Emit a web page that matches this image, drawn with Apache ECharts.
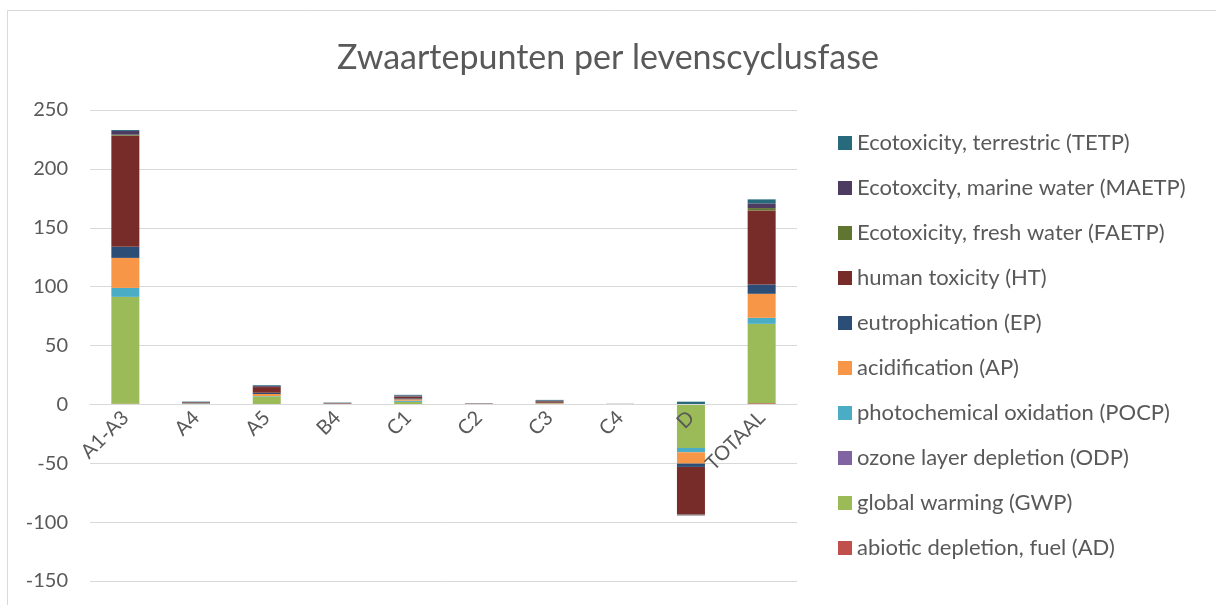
<!DOCTYPE html>
<html>
<head>
<meta charset="utf-8">
<title>Zwaartepunten per levenscyclusfase</title>
<script src="https://cdn.jsdelivr.net/npm/echarts@6/dist/echarts.min.js"></script>
<style>
  html, body { margin: 0; padding: 0; background: #fff; }
  #chart { width: 1216px; height: 605px; }
</style>
</head>
<body>
<div id="chart"></div>
<script>
// levenscyclusfasen (x-as)
var fases = ['A1-A3', 'A4', 'A5', 'B4', 'C1', 'C2', 'C3', 'C4', 'D', 'TOTAAL']

// y-as
var yMin = -150
var yMax = 250
var yStap = 50

// waarden per milieu-indicator
var AD    = [0.6, 0.1, 0.2, 0.05, 0.1, 0.05, 0.4, 0.05, -0.5, 1.0]
var GWP   = [90.6, 0.5, 6.6, 0.3, 2.0, 0.2, 0.3, 0.1, -36.5, 67.3]
var ODP   = [0.1, 0, 0, 0, 0, 0, 0, 0, 0, 0.1]
var POCP  = [7.6, 0.1, 0.3, 0.05, 1.0, 0.05, 0.1, 0.02, -3.7, 5.1]
var AP    = [25.5, 0.2, 1.7, 0.2, 1.2, 0.1, 0.3, 0.05, -9.6, 20.4]
var EP    = [9.4, 0.3, 1.1, 0.2, 0.8, 0.1, 0.3, 0.05, -2.8, 7.9]
var HT    = [94.4, 0.5, 4.8, 0.3, 1.4, 0.2, 1.2, 0.1, -40.5, 62.9]
var FAETP = [0.85, 0.05, 0.2, 0.02, 0.2, 0.02, 0.1, 0.01, -0.2, 2.0]
var MAETP = [3.1, 0.3, 0.8, 0.2, 0.8, 0.1, 0.5, 0.05, -0.5, 4.0]
var TETP  = [0.8, 0.3, 0.6, 0.2, 0.6, 0.1, 0.6, 0.05, 2.3, 3.4]

// volgorde van onder naar boven in de stapel
var reeksen = [
  { name: 'abiotic depletion, fuel (AD)', data: AD, color: '#C0504D' },
  { name: 'global warming (GWP)', data: GWP, color: '#9BBB59' },
  { name: 'ozone layer depletion (ODP)', data: ODP, color: '#8064A2' },
  { name: 'photochemical oxidation (POCP)', data: POCP, color: '#4BACC6' },
  { name: 'acidification (AP)', data: AP, color: '#F79646' },
  { name: 'eutrophication (EP)', data: EP, color: '#2C4D75' },
  { name: 'human toxicity (HT)', data: HT, color: '#772C2A' },
  { name: 'Ecotoxicity, fresh water (FAETP)', data: FAETP, color: '#5F7530' },
  { name: 'Ecotoxcity, marine water (MAETP)', data: MAETP, color: '#4D3B62' },
  { name: 'Ecotoxicity, terrestric (TETP)', data: TETP, color: '#276A7C' }
]

var tekstKleur = '#595959'
var lijnKleur = '#d9d9d9'
var font = 'Lato, "Open Sans", sans-serif'

// plotgebied
var gridTop = 110
var gridBottom = 24
var plotHoogte = 605 - gridTop - gridBottom
// de x-as ligt op de nullijn, niet onderaan
var asOffset = -plotHoogte * (0 - yMin) / (yMax - yMin)

var option = {
  animation: false,
  backgroundColor: '#fff',
  title: {
    text: 'Zwaartepunten per levenscyclusfase',
    left: 'center',
    top: 36,
    textStyle: { color: tekstKleur, fontSize: 34, fontWeight: 'normal', fontFamily: font }
  },
  // rand om de grafiek
  graphic: [{
    type: 'rect',
    shape: { x: 7.5, y: 10.5, width: 1300, height: 700 },
    style: { fill: 'none', stroke: lijnKleur, lineWidth: 1 },
    silent: true
  }],
  legend: {
    orient: 'vertical',
    left: 833,
    top: 127,
    itemWidth: 14,
    itemHeight: 14,
    itemGap: 23,
    icon: 'rect',
    // legenda staat omgekeerd t.o.v. de stapel
    data: reeksen.map(function (r) { return r.name }).reverse(),
    textStyle: { color: tekstKleur, fontSize: 22, lineHeight: 20, fontFamily: font }
  },
  grid: {
    left: 90,
    right: 419,
    top: gridTop,
    bottom: gridBottom,
    outerBoundsMode: 'none'
  },
  xAxis: {
    type: 'category',
    data: fases,
    offset: asOffset,
    z: 10, // labels boven de balken (zoals de D)
    axisLine: { onZero: false, lineStyle: { color: lijnKleur, width: 1 } },
    axisTick: { show: false },
    axisLabel: {
      rotate: 45,
      margin: 10,
      color: tekstKleur,
      fontSize: 20,
      fontFamily: font,
      interval: 0
    }
  },
  yAxis: {
    type: 'value',
    min: yMin,
    max: yMax,
    interval: yStap,
    axisLine: { show: false },
    axisTick: { show: false },
    splitLine: { lineStyle: { color: lijnKleur, width: 1 } },
    axisLabel: { color: tekstKleur, fontSize: 20, fontFamily: font, margin: 22 }
  },
  series: reeksen.map(function (r) {
    return {
      name: r.name,
      type: 'bar',
      stack: 'totaal',
      barWidth: 28,
      data: r.data,
      itemStyle: { color: r.color }
    }
  })
}

var myChart = echarts.init(document.getElementById('chart'))
myChart.setOption(option)
</script>
</body>
</html>
